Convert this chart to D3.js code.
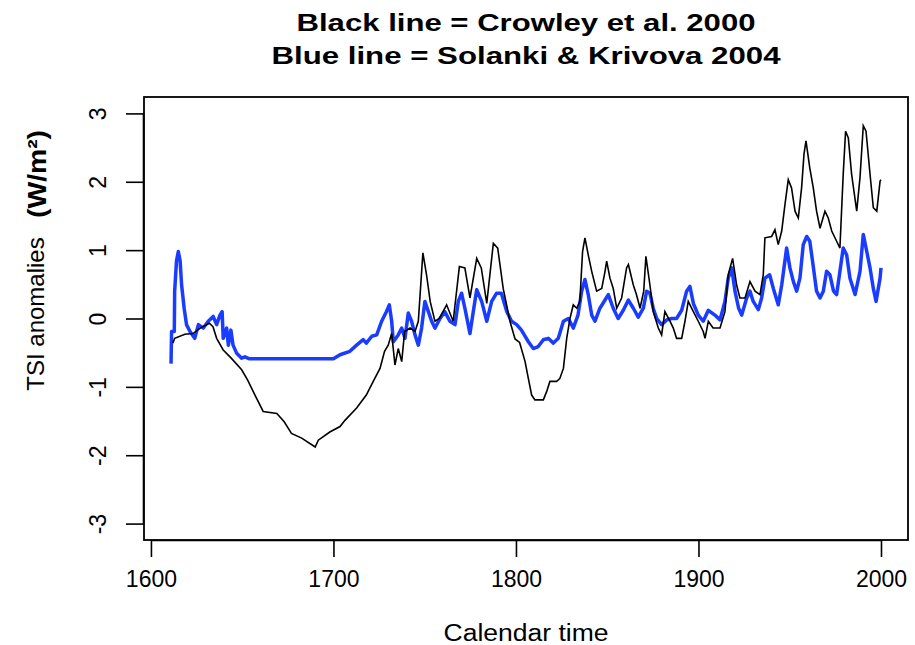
<!DOCTYPE html>
<html>
<head>
<meta charset="utf-8">
<script src="https://cdn.jsdelivr.net/npm/d3@7"></script>
<style>
  body { margin: 0; background: #fff; }
  text { font-family: "Liberation Sans", Arial, sans-serif; fill: #000; }
</style>
</head>
<body>
<svg id="chart" width="915" height="645"></svg>
<script>
// Crowley et al. 2000 (black line)
const crowleyYears = [1612, 1613, 1618.6, 1623, 1627, 1632, 1634, 1636, 1639.6, 1644, 1649.7, 1653, 1657, 1661.5, 1669, 1673, 1677, 1682.6, 1690, 1691.7, 1698, 1703.6, 1706.3, 1712.7, 1718, 1721.8, 1725.5, 1728, 1730, 1731.9, 1733.7, 1735.5, 1737.4, 1739, 1742, 1744.7, 1746.5, 1749, 1751, 1753, 1755.6, 1758, 1762, 1765.6, 1769, 1772, 1774.8, 1778.5, 1781, 1784, 1787.6, 1790, 1793, 1796.7, 1799.5, 1802, 1805, 1806.8, 1808.6, 1810.4, 1815, 1816.8, 1818.6, 1822.3, 1824, 1826, 1827.8, 1829.6, 1831.4, 1833.3, 1835, 1836.5, 1837.8, 1839.6, 1841.5, 1844.2, 1847, 1848.8, 1849.7, 1851.5, 1853.3, 1855.2, 1857.9, 1860.6, 1861.6, 1864.3, 1866, 1868, 1870, 1871.2, 1873.4, 1875.2, 1878, 1879.8, 1881.6, 1884.4, 1886.2, 1888, 1890.8, 1892.6, 1894.4, 1897.2, 1899.9, 1902.6, 1903.6, 1905.4, 1908, 1911.8, 1914.5, 1916.3, 1918.7, 1920.9, 1922.7, 1925.5, 1928.2, 1931, 1933.7, 1935.5, 1936.4, 1940.1, 1941.9, 1943.7, 1945.6, 1947.4, 1949.2, 1951, 1952.9, 1954.7, 1956.5, 1957.8, 1958.9, 1961, 1962.9, 1964.7, 1966.6, 1969.3, 1971.1, 1973, 1975.7, 1977.5, 1979.3, 1980.6, 1982.1, 1983.9, 1986.7, 1988.5, 1990.3, 1991.8, 1994, 1995.8, 1997.7, 1999.5, 2000];
const crowleyValues = [-0.36, -0.29, -0.23, -0.22, -0.14, -0.07, -0.12, -0.29, -0.46, -0.58, -0.75, -0.90, -1.12, -1.36, -1.39, -1.51, -1.68, -1.75, -1.88, -1.78, -1.66, -1.58, -1.49, -1.31, -1.12, -0.92, -0.73, -0.48, -0.39, -0.22, -0.68, -0.44, -0.63, -0.19, -0.14, -0.19, -0.04, 0.96, 0.64, 0.25, -0.04, 0.0, 0.20, -0.04, 0.76, 0.74, 0.30, 0.88, 0.74, 0.22, 1.10, 1.03, 0.44, -0.04, -0.30, -0.35, -0.63, -0.88, -1.12, -1.19, -1.19, -1.07, -0.92, -0.92, -0.88, -0.73, -0.29, 0.0, 0.20, 0.15, 0.25, 0.98, 1.18, 0.93, 0.69, 0.40, 0.44, 0.69, 0.84, 0.59, 0.44, 0.15, 0.30, 0.74, 0.79, 0.49, 0.35, 0.15, 0.40, 0.91, 0.49, 0.10, -0.14, -0.24, 0.10, -0.04, -0.14, -0.29, -0.29, -0.04, 0.25, 0.10, -0.04, -0.19, -0.29, -0.04, -0.14, -0.14, 0.10, 0.64, 0.88, 0.49, 0.30, 0.30, 0.54, 0.40, 0.35, 0.64, 1.18, 1.20, 1.30, 1.08, 1.28, 1.67, 2.03, 1.91, 1.57, 1.47, 1.91, 2.40, 2.60, 2.20, 1.91, 1.57, 1.32, 1.57, 1.47, 1.28, 1.13, 1.03, 2.11, 2.74, 2.64, 2.11, 1.57, 2.06, 2.82, 2.74, 2.11, 1.62, 1.57, 2.01, 2.03];

// Solanki & Krivova 2004 (blue line)
const solankiYears = [1611, 1611.3, 1612.8, 1613, 1614, 1615, 1616, 1616.8, 1618.2, 1619.5, 1621.4, 1624, 1626, 1628.7, 1631.4, 1634.1, 1636, 1637.8, 1639, 1639.6, 1641.5, 1642.4, 1643.8, 1645, 1647, 1649.7, 1651.5, 1654, 1700, 1703.6, 1709, 1712.7, 1716.3, 1718, 1721, 1723.7, 1726.4, 1729, 1730.6, 1731.9, 1732.8, 1735.5, 1737.4, 1739.2, 1741, 1742.8, 1744.7, 1746.5, 1748.3, 1750.1, 1752, 1753.8, 1755.6, 1758.4, 1761, 1763.8, 1766.6, 1768.4, 1770.2, 1772, 1774.8, 1776.6, 1778.5, 1781.2, 1784, 1786.7, 1789.4, 1792, 1795, 1797.6, 1800.4, 1803, 1806.8, 1809.5, 1812.2, 1815, 1817.7, 1820.5, 1823.2, 1826, 1828.7, 1831.4, 1834, 1836, 1837.8, 1839.6, 1841.5, 1843.3, 1846, 1848.8, 1850.6, 1853.3, 1856, 1858.8, 1861.6, 1864.3, 1867, 1869.8, 1871.6, 1873.4, 1875.2, 1877.1, 1879.8, 1882.6, 1885.3, 1888, 1890.8, 1893.5, 1895.3, 1897.2, 1899.9, 1902.6, 1905.4, 1909, 1911.8, 1914.5, 1916.3, 1918.2, 1920, 1922, 1923.7, 1926.4, 1928.2, 1930, 1932.8, 1934.6, 1936.4, 1939, 1941, 1943.7, 1945.6, 1948.3, 1950.1, 1952, 1953.8, 1955.6, 1957.4, 1959.3, 1961, 1963, 1964.7, 1966.6, 1968.4, 1970.2, 1972, 1974, 1975.7, 1977.5, 1979.3, 1981.2, 1983, 1985.8, 1988.5, 1990.3, 1992.2, 1994, 1995.8, 1997.3, 1999.5, 2000];
const solankiValues = [-0.66, -0.19, -0.19, 0.40, 0.84, 0.98, 0.84, 0.49, 0.15, -0.09, -0.19, -0.29, -0.09, -0.14, -0.04, 0.03, -0.09, 0.05, 0.10, -0.29, -0.14, -0.39, -0.17, -0.39, -0.51, -0.58, -0.56, -0.59, -0.59, -0.53, -0.48, -0.39, -0.31, -0.36, -0.26, -0.24, -0.04, 0.10, 0.20, -0.04, -0.34, -0.24, -0.14, -0.29, 0.08, -0.04, -0.24, -0.39, -0.14, 0.25, 0.10, -0.04, -0.14, 0.0, 0.10, -0.04, -0.09, 0.25, 0.37, 0.15, -0.22, 0.10, 0.42, 0.25, -0.04, 0.25, 0.37, 0.37, 0.10, -0.04, -0.09, -0.17, -0.34, -0.44, -0.41, -0.31, -0.29, -0.36, -0.29, -0.04, 0.0, -0.14, 0.05, 0.40, 0.57, 0.35, 0.05, -0.04, 0.15, 0.27, 0.35, 0.15, 0.0, 0.12, 0.27, 0.15, 0.02, 0.15, 0.40, 0.37, 0.15, 0.0, -0.09, -0.02, 0.0, 0.0, 0.12, 0.40, 0.47, 0.22, 0.05, -0.04, 0.12, 0.05, -0.02, 0.25, 0.59, 0.74, 0.40, 0.15, 0.05, 0.30, 0.40, 0.25, 0.13, 0.30, 0.59, 0.64, 0.44, 0.20, 0.49, 1.03, 0.74, 0.54, 0.40, 0.59, 1.08, 1.20, 1.13, 0.74, 0.40, 0.30, 0.40, 0.69, 0.64, 0.40, 0.35, 0.69, 1.03, 0.93, 0.59, 0.35, 0.69, 1.23, 0.98, 0.74, 0.44, 0.25, 0.59, 0.74];

const xTicks = [1600, 1700, 1800, 1900, 2000];
const yTicks = [-3, -2, -1, 0, 1, 2, 3];
const titleLines = ["Black line = Crowley et al. 2000", "Blue line = Solanki & Krivova 2004"];

const svg = d3.select("#chart");

// plot box in pixels
const box = { left: 144, right: 908, top: 97, bottom: 540 };

const x = d3.scaleLinear().domain([1596.2, 2014.8]).range([box.left, box.right]);
const y = d3.scaleLinear().domain([-3.24, 3.24]).range([box.bottom, box.top]);

const crowley = crowleyYears.map((yr, i) => ({ yr, v: crowleyValues[i] }));
const solanki = solankiYears.map((yr, i) => ({ yr, v: solankiValues[i] }));

const line = d3.line().x(d => x(d.yr)).y(d => y(d.v));

svg.append("path")
    .datum(solanki)
    .attr("fill", "none")
    .attr("stroke", "#1a3cff")
    .attr("stroke-width", 3.5)
    .attr("stroke-linejoin", "round")
    .attr("d", line);

svg.append("path")
    .datum(crowley)
    .attr("fill", "none")
    .attr("stroke", "#000")
    .attr("stroke-width", 1.6)
    .attr("d", line);

// box
svg.append("rect")
    .attr("x", box.left)
    .attr("y", box.top)
    .attr("width", box.right - box.left)
    .attr("height", box.bottom - box.top)
    .attr("fill", "none")
    .attr("stroke", "#000")
    .attr("stroke-width", 1.8);

// x axis
const xAxis = d3.axisBottom(x).tickValues(xTicks).tickSize(17).tickPadding(14).tickFormat(d3.format("d"));
const gx = svg.append("g").attr("transform", `translate(0,${box.bottom})`).call(xAxis);
gx.select(".domain")
    .attr("d", `M${x(1600)},0.5H${x(2000)}`)
    .attr("stroke-width", 1.6);
gx.selectAll(".tick line").attr("stroke-width", 1.6);
gx.selectAll(".tick text")
    .attr("font-size", 23)
    .attr("font-family", null);

// y axis
const yAxis = d3.axisLeft(y).tickValues(yTicks).tickSize(18).tickPadding(0).tickFormat(d => d < 0 ? "-" + Math.abs(d) : d);
const gy = svg.append("g").attr("transform", `translate(${box.left},0)`).call(yAxis);
gy.select(".domain")
    .attr("d", `M-0.5,${y(-3)}V${y(3)}`)
    .attr("stroke-width", 1.6);
gy.selectAll(".tick line").attr("stroke-width", 1.6);
gy.selectAll(".tick text")
    .attr("font-size", 23)
    .attr("font-family", null)
    .attr("x", null)
    .attr("dy", null)
    .attr("text-anchor", "middle")
    .attr("transform", "translate(-38,0) rotate(-90)");

// title
svg.selectAll(".title")
    .data(titleLines)
    .enter().append("text")
    .attr("class", "title")
    .attr("x", (box.left + box.right) / 2)
    .attr("y", (d, i) => 31 + i * 33)
    .attr("text-anchor", "middle")
    .attr("font-size", 24)
    .attr("font-weight", "bold")
    .attr("textLength", (d, i) => i === 0 ? 459 : 509)
    .attr("lengthAdjust", "spacingAndGlyphs")
    .text(d => d);

// axis labels
svg.append("text")
    .attr("x", (box.left + box.right) / 2)
    .attr("y", 641)
    .attr("text-anchor", "middle")
    .attr("font-size", 23)
    .attr("textLength", 165)
    .attr("lengthAdjust", "spacingAndGlyphs")
    .text("Calendar time");

svg.append("text")
    .attr("transform", "translate(44,314) rotate(-90)")
    .attr("text-anchor", "middle")
    .attr("font-size", 24)
    .text("TSI anomalies");

svg.append("text")
    .attr("transform", "translate(46,174) rotate(-90)")
    .attr("text-anchor", "middle")
    .attr("font-size", 26)
    .attr("font-weight", "bold")
    .attr("textLength", 88)
    .attr("lengthAdjust", "spacingAndGlyphs")
    .text("(W/m²)");
</script>
</body>
</html>
